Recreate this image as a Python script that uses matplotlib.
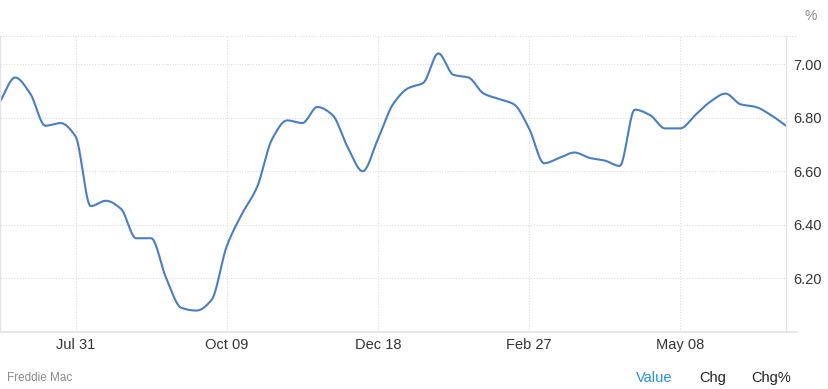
import numpy as np
import matplotlib
matplotlib.use("Agg")
import matplotlib.pyplot as plt
from matplotlib.lines import Line2D

plt.rcParams['font.family'] = ['Liberation Sans', 'DejaVu Sans']

# Weekly 30-yr fixed mortgage rate (%), Freddie Mac
rates = [6.86, 6.95, 6.89, 6.77, 6.78, 6.73, 6.47, 6.49, 6.46, 6.35,
         6.35, 6.20, 6.09, 6.08, 6.12, 6.32, 6.44, 6.54, 6.72, 6.79,
         6.78, 6.84, 6.81, 6.69, 6.60, 6.72, 6.85, 6.91, 6.93, 7.04,
         6.96, 6.95, 6.89, 6.87, 6.85, 6.76, 6.63, 6.65, 6.67, 6.65,
         6.64, 6.62, 6.83, 6.81, 6.76, 6.76, 6.81, 6.86, 6.89, 6.85,
         6.84, 6.81, 6.77]
xtick_idx = [5, 15, 25, 35, 45]
xtick_labels = ["Jul 31", "Oct 09", "Dec 18", "Feb 27", "May 08"]
yticks = [6.20, 6.40, 6.60, 6.80, 7.00]


def monotone_curve(y, n_sub=20):
    y = np.asarray(y, float)
    x = np.arange(len(y), dtype=float)
    d = np.diff(y)
    m = np.zeros_like(y)
    m[0], m[-1] = d[0], d[-1]
    for i in range(1, len(y) - 1):
        if d[i - 1] * d[i] <= 0:
            m[i] = 0.0
        else:
            m[i] = 2.0 / (1.0 / d[i - 1] + 1.0 / d[i])
    xs, ys = [], []
    t = np.linspace(0, 1, n_sub, endpoint=False)
    for i in range(len(y) - 1):
        h00 = 2 * t**3 - 3 * t**2 + 1
        h10 = t**3 - 2 * t**2 + t
        h01 = -2 * t**3 + 3 * t**2
        h11 = t**3 - t**2
        xs.append(x[i] + t)
        ys.append(h00 * y[i] + h10 * m[i] + h01 * y[i + 1] + h11 * m[i + 1])
    xs.append([x[-1]])
    ys.append([y[-1]])
    return np.concatenate(xs), np.concatenate(ys)


W, H = 829, 389
fig = plt.figure(figsize=(W / 100, H / 100), dpi=100)
left, right, top, bottom = 0, 786, 36, 332
ax = fig.add_axes([left / W, 1 - bottom / H, (right - left) / W, (bottom - top) / H])

xs, ys = monotone_curve(rates)
ax.plot(xs, ys, color='#4a7ebf', lw=1.5, solid_capstyle='round')

ax.set_xlim(0, len(rates) - 1)
ax.set_ylim(6.0, 7.105)

ax.set_yticks(yticks)
ax.set_yticklabels([f"{v:.2f}" for v in yticks])
ax.yaxis.tick_right()
ax.set_xticks(xtick_idx)
ax.set_xticklabels(xtick_labels)
ax.tick_params(axis='both', length=0, labelsize=10.5, labelcolor='#333333')
ax.tick_params(axis='y', pad=5)
ax.tick_params(axis='x', pad=4)

ax.grid(True, color='#dcdcdc', linestyle=(0, (1, 1.5)), lw=0.8)

for s in ['top', 'bottom']:
    ax.spines[s].set_visible(False)
ax.spines['left'].set_color('#e3e3e3')
ax.spines['right'].set_color('#e3e3e3')
ax.spines['left'].set_linewidth(1)
ax.spines['right'].set_linewidth(1)

# top dotted line and bottom axis line extending slightly past plot
fig.add_artist(Line2D([0, 797 / W], [1 - top / H, 1 - top / H], color='#dcdcdc',
                      lw=0.8, linestyle=(0, (1, 1.5))))
fig.add_artist(Line2D([0, 797 / W], [1 - bottom / H, 1 - bottom / H], color='#e3e3e3', lw=1.2))

fig.text(805 / W, 1 - 16 / H, "%", fontsize=10, color='#8a8a8a', va='center', ha='left')
fig.text(7 / W, 1 - 378 / H, "Freddie Mac", fontsize=8.5, color='#8a8a8a', va='center', ha='left')
fig.text(636 / W, 1 - 378 / H, "Value", fontsize=10.5, color='#2b8ef0', va='center', ha='left')
fig.text(699 / W, 1 - 378 / H, "Chg", fontsize=10.5, color='#222222', va='center', ha='left')
fig.text(751 / W, 1 - 378 / H, "Chg%", fontsize=10.5, color='#222222', va='center', ha='left')

fig.savefig("out.png", dpi=100)
